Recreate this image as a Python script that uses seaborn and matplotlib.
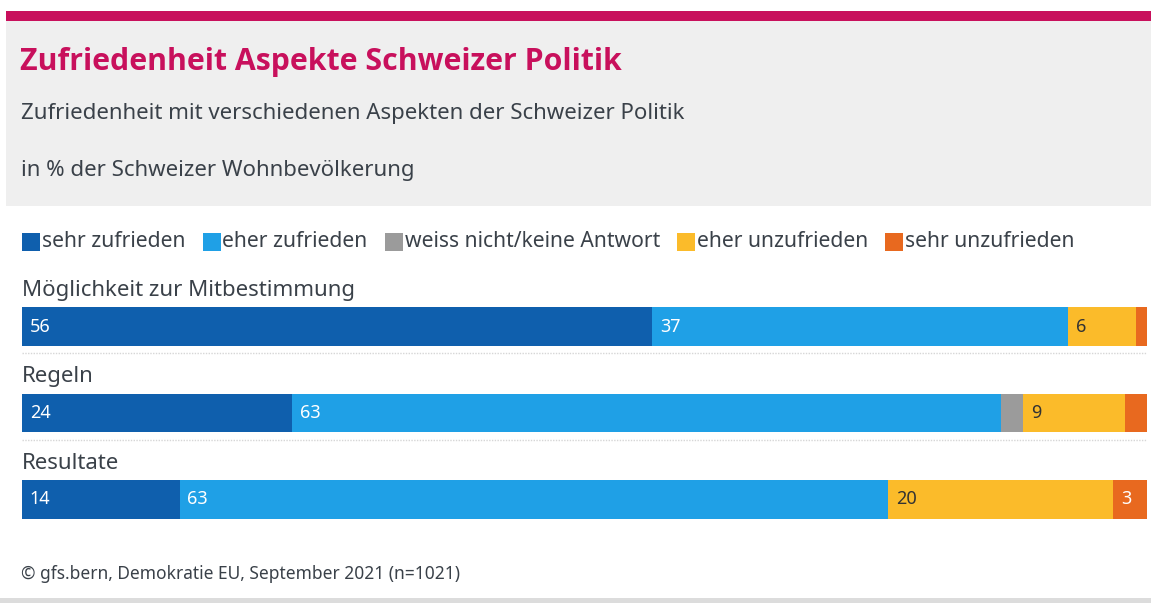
import matplotlib
matplotlib.use("Agg")
import matplotlib.pyplot as plt
from matplotlib.patches import Rectangle
import seaborn as sns
import pandas as pd
import numpy as np

# ---- data ----
categories = ["Möglichkeit zur Mitbestimmung", "Regeln", "Resultate"]
series_names = ["sehr zufrieden", "eher zufrieden", "weiss nicht/keine Antwort",
                "eher unzufrieden", "sehr unzufrieden"]
sehr_zufrieden = [56, 24, 14]
eher_zufrieden = [37, 63, 63]
weiss_nicht = [0, 2, 0]
eher_unzufrieden = [6, 9, 20]
sehr_unzufrieden = [1, 2, 3]

colors = ["#0f5fad", "#1fa0e6", "#9b9b9b", "#fbbb2a", "#e8691f"]
label_colors = ["white", "white", "white", "#333333", "white"]

title = "Zufriedenheit Aspekte Schweizer Politik"
subtitle1 = "Zufriedenheit mit verschiedenen Aspekten der Schweizer Politik"
subtitle2 = "in % der Schweizer Wohnbevölkerung"
source = "© gfs.bern, Demokratie EU, September 2021 (n=1021)"

sns.set_theme(style="white")
plt.rcParams["font.family"] = ["Noto Sans", "DejaVu Sans"]

TXT = "#3a4149"
W, H = 1151, 603
fig = plt.figure(figsize=(W / 100, H / 100), dpi=100)
fig.patch.set_facecolor("white")

def fx(x):
    return x / W

def fy(y):
    return 1 - y / H

# header background
fig.patches.append(Rectangle((fx(6), fy(206)), fx(1151) - fx(6), fy(21) - fy(206),
                             transform=fig.transFigure, facecolor="#efefef", edgecolor="none", zorder=0))
fig.patches.append(Rectangle((fx(6), fy(21)), fx(1151) - fx(6), fy(11) - fy(21),
                             transform=fig.transFigure, facecolor="#c8105c", edgecolor="none", zorder=1))
# bottom rule
fig.patches.append(Rectangle((fx(0), fy(603)), 1, fy(598) - fy(603),
                             transform=fig.transFigure, facecolor="#dcdcdc", edgecolor="none", zorder=1))

fig.text(fx(20), fy(62), title, fontsize=21.8, fontweight="bold", color="#c8105c", va="center", ha="left",
         family=["Open Sans", "DejaVu Sans"])
fig.text(fx(21), fy(113), subtitle1, fontsize=16, color=TXT, va="center", ha="left")
fig.text(fx(21), fy(170), subtitle2, fontsize=16, color=TXT, va="center", ha="left")
fig.text(fx(21), fy(574), source, fontsize=12.5, color=TXT, va="center", ha="left")

# legend (manual, measured placement)
renderer = fig.canvas.get_renderer()
x = 22
for name, col in zip(series_names, colors):
    fig.patches.append(Rectangle((fx(x), fy(251)), 18 / W, 18 / H, transform=fig.transFigure,
                                 facecolor=col, edgecolor="none"))
    t = fig.text(fx(x + 20), fy(242), name, fontsize=15.2, color=TXT, va="center", ha="left")
    bb = t.get_window_extent(renderer=renderer)
    x = x + 20 + bb.width + 17

# ---- bars ----
ax = fig.add_axes([fx(22), fy(542.75), 1125 / W, (542.75 - 283.25) / H])
vals = np.array([sehr_zufrieden, eher_zufrieden, weiss_nicht, eher_unzufrieden, sehr_unzufrieden], dtype=float)
cum = np.cumsum(vals, axis=0)
lefts = cum - vals

for k in range(len(series_names) - 1, -1, -1):
    df = pd.DataFrame({"Aspekt": categories, "v": cum[k]})
    sns.barplot(data=df, x="v", y="Aspekt", orient="h", color=colors[k], width=0.45,
                errorbar=None, linewidth=0, saturation=1, ax=ax, order=categories)

for i, cat in enumerate(categories):
    ax.text(0, i - 0.42, cat, fontsize=16, color=TXT, va="center", ha="left")
    for k in range(len(series_names)):
        v = vals[k, i]
        if v >= 3:
            ax.text(lefts[k, i] + 0.7, i, f"{int(v)}", fontsize=13, color=label_colors[k],
                    va="center", ha="left")
    if i < len(categories) - 1:
        ax.plot([0, 100], [i + 0.31, i + 0.31], linestyle=(0, (1, 1)), color="#d6d6d6", linewidth=1)

ax.set_xlim(0, 100)
ax.set_ylim(len(categories) - 0.5, -0.5)
ax.axis("off")

fig.savefig("out.png", dpi=100, facecolor="white")
